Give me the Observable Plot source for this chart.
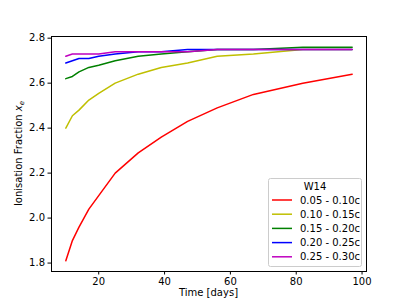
<!DOCTYPE html>
<html><head><meta charset="utf-8">
<script src="https://cdn.jsdelivr.net/npm/d3@7"></script>
<script src="https://cdn.jsdelivr.net/npm/@observablehq/plot@0.6"></script>
<style>body{margin:0;background:#fff}svg{display:block}</style>
</head><body><div id="chart"></div>
<script>
const times = [10, 12, 14, 17, 20, 25, 32, 39, 47, 56, 67, 82, 97];
const labels = ["0.05 - 0.10c", "0.10 - 0.15c", "0.15 - 0.20c", "0.20 - 0.25c", "0.25 - 0.30c"];
const colors = ["#ff0000", "#bfbf00", "#008000", "#0000ff", "#bf00bf"];
const v005 = [1.81, 1.90, 1.96, 2.04, 2.10, 2.20, 2.29, 2.36, 2.43, 2.49, 2.55, 2.60, 2.64];
const v010 = [2.40, 2.455, 2.48, 2.525, 2.555, 2.60, 2.64, 2.67, 2.69, 2.72, 2.73, 2.75, 2.75];
const v015 = [2.62, 2.63, 2.65, 2.67, 2.68, 2.70, 2.72, 2.73, 2.74, 2.75, 2.75, 2.76, 2.76];
const v020 = [2.69, 2.70, 2.71, 2.71, 2.72, 2.73, 2.74, 2.74, 2.75, 2.75, 2.75, 2.75, 2.75];
const v025 = [2.72, 2.73, 2.73, 2.73, 2.73, 2.74, 2.74, 2.74, 2.74, 2.75, 2.75, 2.75, 2.75];
const xTicks = [20, 40, 60, 80, 100];
const yTicks = [1.8, 2.0, 2.2, 2.4, 2.6, 2.8];
const legendTitle = "W14";

const seriesVals = [v005, v010, v015, v020, v025];
const data = [];
seriesVals.forEach((vals, i) => vals.forEach((v, j) => data.push({t: times[j], x: v, s: labels[i]})));

const W = 407, H = 305, mL = 51, mR = 41, mT = 36, mB = 34;
const plot = Plot.plot({
  width: W, height: H,
  marginLeft: mL, marginRight: mR, marginTop: mT, marginBottom: mB,
  style: {fontFamily: "DejaVu Sans", fontSize: "10px", color: "#000", background: "#fff"},
  x: {domain: [5.65, 101.35], ticks: xTicks, tickSize: 3.5, tickPadding: 3, label: null, tickFormat: d => d},
  y: {domain: [1.7625, 2.8075], ticks: yTicks, tickSize: 3.5, tickPadding: 3, label: null, tickFormat: d3.format(".1f")},
  color: {domain: labels, range: colors},
  marks: [
    Plot.line(data, {x: "t", y: "x", z: "s", stroke: "s", strokeWidth: 1.5}),
    Plot.frame({stroke: "#000", strokeWidth: 1})
  ]
});
document.getElementById("chart").appendChild(plot);

const svg = d3.select(plot);
svg.append("text").attr("x", (mL + W - mR) / 2).attr("y", 296).attr("text-anchor", "middle")
  .attr("font-family", "DejaVu Sans").attr("font-size", 10).text("Time [days]");
const yl = svg.append("text").attr("transform", `translate(22,${(mT + H - mB) / 2}) rotate(-90)`)
  .attr("text-anchor", "middle").attr("font-family", "DejaVu Sans").attr("font-size", 10);
yl.append("tspan").text("Ionisation Fraction ");
yl.append("tspan").attr("font-style", "italic").text("x");
yl.append("tspan").attr("font-style", "italic").attr("font-size", 7).attr("dy", 2).text("e");

const lg = svg.append("g");
lg.append("rect").attr("x", 268.5).attr("y", 178.5).attr("width", 93).attr("height", 88).attr("rx", 2)
  .attr("fill", "#fff").attr("fill-opacity", 0.8).attr("stroke", "#ccc");
lg.append("text").attr("x", 315).attr("y", 190).attr("text-anchor", "middle")
  .attr("font-family", "DejaVu Sans").attr("font-size", 10).text(legendTitle);
labels.forEach((l, i) => {
  const y = 200 + i * 14.2;
  lg.append("line").attr("x1", 272).attr("x2", 292).attr("y1", y).attr("y2", y)
    .attr("stroke", colors[i]).attr("stroke-width", 1.5);
  lg.append("text").attr("x", 300).attr("y", y + 3.5).attr("text-anchor", "start")
    .attr("font-family", "DejaVu Sans").attr("font-size", 10).text(l);
});
</script></body></html>
